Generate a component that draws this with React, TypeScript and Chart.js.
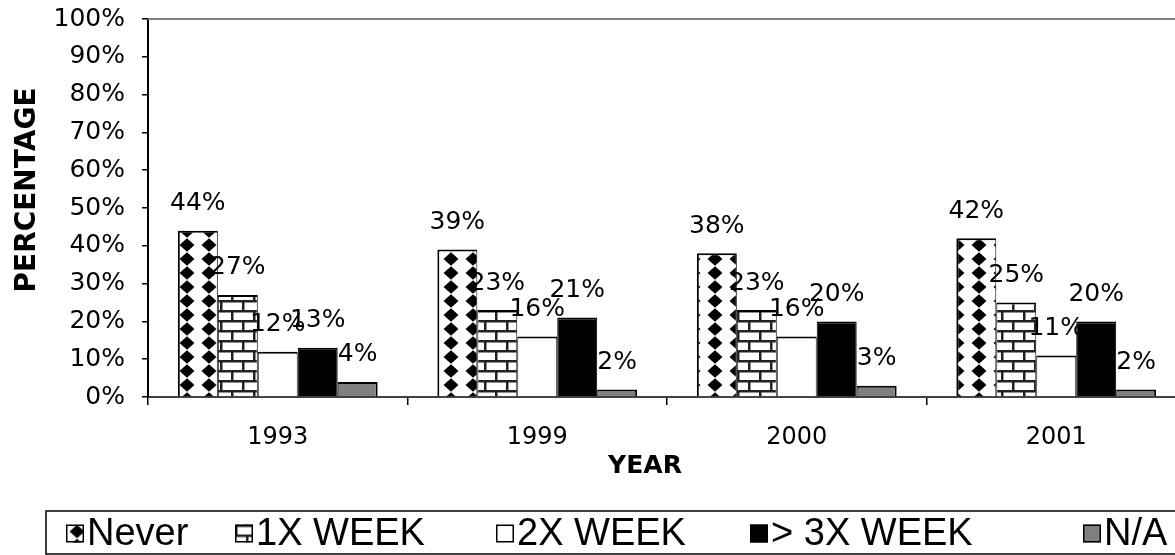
import React, { useEffect, useRef } from 'react';
import { Chart, registerables } from 'chart.js';

Chart.register(...registerables);

const years = ['1993', '1999', '2000', '2001'];
const seriesNames = ['Never', '1X WEEK', '2X WEEK', '> 3X WEEK', 'N/A'];
const neverVals = [44, 39, 38, 42];
const onceVals = [27, 23, 23, 25];
const twiceVals = [12, 16, 16, 11];
const threeVals = [13, 21, 20, 20];
const naVals = [4, 2, 3, 2];
const yTitle = 'PERCENTAGE';
const xTitle = 'YEAR';

const FONT = '"DejaVu Sans", Verdana, sans-serif';
const LEGEND_FONT = '"Liberation Sans", Arial, sans-serif';
const legendX = [66, 235, 496, 750, 1083];

function makeDiamondPattern(ctx: CanvasRenderingContext2D) {
  const c = document.createElement('canvas');
  c.width = 22;
  c.height = 14;
  const g = c.getContext('2d')!;
  g.fillStyle = '#fff';
  g.fillRect(0, 0, 22, 14);
  g.fillStyle = '#000';
  g.beginPath();
  g.moveTo(11, 0.3);
  g.lineTo(18.5, 7);
  g.lineTo(11, 13.7);
  g.lineTo(3.5, 7);
  g.closePath();
  g.fill();
  return ctx.createPattern(c, 'repeat')!;
}

function makeBrickPattern(ctx: CanvasRenderingContext2D) {
  const c = document.createElement('canvas');
  c.width = 22;
  c.height = 20;
  const g = c.getContext('2d')!;
  g.fillStyle = '#fff';
  g.fillRect(0, 0, 22, 20);
  g.fillStyle = '#222';
  g.fillRect(0, 0, 22, 2.5);
  g.fillRect(0, 10, 22, 2.5);
  g.fillRect(0, 0, 2.5, 10);
  g.fillRect(11, 10, 2.5, 10);
  return ctx.createPattern(c, 'repeat')!;
}

export default function App() {
  const ref = useRef<HTMLCanvasElement>(null);

  useEffect(() => {
    const canvas = ref.current!;
    const ctx = canvas.getContext('2d')!;
    const diamond = makeDiamondPattern(ctx);
    const brick = makeBrickPattern(ctx);
    const fills: any[] = [diamond, brick, '#ffffff', '#000000', '#808080'];
    const values = [neverVals, onceVals, twiceVals, threeVals, naVals];
    const borders = [
      { top: 2, left: 2, right: 1, bottom: 0 },
      { top: 2, left: 1, right: 1, bottom: 0 },
      { top: 2, left: 1, right: 1, bottom: 0 },
      { top: 2, left: 1, right: 1, bottom: 0 },
      { top: 2, left: 1, right: 2, bottom: 0 },
    ];

    const decor = {
      id: 'decor',
      beforeDatasetsDraw(chart: any) {
        const { ctx, chartArea } = chart;
        ctx.save();
        ctx.strokeStyle = '#808080';
        ctx.lineWidth = 2;
        ctx.beginPath();
        ctx.moveTo(chartArea.left, chartArea.top);
        ctx.lineTo(chartArea.right + 40, chartArea.top);
        ctx.stroke();
        ctx.restore();
      },
      afterDatasetsDraw(chart: any) {
        const { ctx } = chart;
        ctx.save();
        ctx.font = `25px ${FONT}`;
        ctx.fillStyle = '#000';
        ctx.textAlign = 'center';
        ctx.textBaseline = 'middle';
        chart.data.datasets.forEach((ds: any, i: number) => {
          const meta = chart.getDatasetMeta(i);
          meta.data.forEach((el: any, j: number) => {
            ctx.fillText(ds.data[j] + '%', el.x, el.y - 27);
          });
        });
        ctx.restore();
      },
      afterDraw(chart: any) {
        const { ctx } = chart;
        ctx.save();
        // axis titles
        ctx.fillStyle = '#000';
        ctx.textAlign = 'center';
        ctx.textBaseline = 'middle';
        ctx.font = `bold 25px ${FONT}`;
        ctx.fillText(xTitle, 645, 466);
        ctx.save();
        ctx.translate(28, 190);
        ctx.rotate(-Math.PI / 2);
        ctx.font = `bold 28px ${FONT}`;
        ctx.fillText(yTitle, 0, 0);
        ctx.restore();

        // legend
        const lx = 46, ly = 511, lh = 43;
        ctx.strokeStyle = '#000';
        ctx.lineWidth = 1.5;
        ctx.strokeRect(lx, ly, 1400, lh);
        ctx.font = `38px ${LEGEND_FONT}`;
        ctx.textAlign = 'left';
        const cy = ly + lh / 2 + 1;
        const sz = 18;
        chart.data.datasets.forEach((ds: any, i: number) => {
          const x = legendX[i];
          ctx.save();
          ctx.translate(x, cy - sz / 2);
          ctx.fillStyle = ds.backgroundColor;
          ctx.fillRect(0, 0, sz, sz);
          ctx.strokeStyle = '#000';
          ctx.lineWidth = 1.5;
          ctx.strokeRect(0.75, 0.75, sz - 1.5, sz - 1.5);
          ctx.restore();
          ctx.fillStyle = '#000';
          ctx.fillText(ds.label, x + sz + 3, cy + 1);
        });
        ctx.restore();
      },
    };

    const chart = new Chart(canvas, {
      type: 'bar',
      data: {
        labels: years,
        datasets: seriesNames.map((name, i) => ({
          label: name,
          data: values[i],
          backgroundColor: fills[i],
          borderColor: '#000',
          borderWidth: borders[i] as any,
          borderSkipped: false as any,
          barPercentage: 1,
          categoryPercentage: 0.77,
        })),
      },
      options: {
        responsive: false,
        animation: false,
        events: [],
        layout: { padding: { top: 19, right: 14, left: 0, bottom: 0 } },
        plugins: { legend: { display: false }, tooltip: { enabled: false } },
        scales: {
          x: {
            grid: { offset: true, drawOnChartArea: false, tickLength: 8, color: '#000', lineWidth: 1.5 },
            border: { color: '#404040', width: 2 },
            ticks: { font: { family: FONT, size: 24 }, color: '#000', padding: 18, maxRotation: 0 },
            afterFit: (s: any) => { s.height = 158; s.paddingLeft = 0; s.paddingRight = 0; },
          },
          y: {
            min: 0,
            max: 100,
            ticks: {
              stepSize: 10,
              callback: (v: any) => v + '%',
              font: { family: FONT, size: 25 },
              color: '#000',
              padding: 17,
            },
            grid: { drawOnChartArea: false, tickLength: 6, color: '#000', lineWidth: 1.5 },
            border: { color: '#000', width: 2 },
            afterFit: (s: any) => { s.width = 148; s.paddingTop = 0; s.paddingBottom = 0; },
          },
        },
      },
      plugins: [decor],
    });
    return () => chart.destroy();
  }, []);

  return (
    <div style={{ position: 'fixed', left: 0, top: 0, width: 1175, height: 555, overflow: 'hidden', background: '#fff' }}>
      <canvas ref={ref} width={1200} height={555} style={{ display: 'block', width: 1200, height: 555 }} />
    </div>
  );
}
